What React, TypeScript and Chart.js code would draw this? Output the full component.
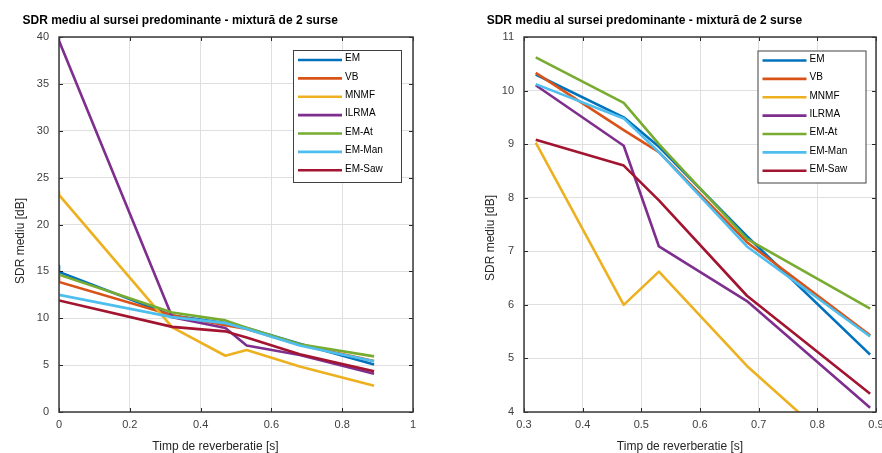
import React, { useEffect, useRef } from "react";
import { Chart, registerables } from "chart.js";

Chart.register(...registerables);

// ---------------- data ----------------
const reverbTimes = [0, 0.32, 0.47, 0.53, 0.68, 0.89];
const methods = ["EM", "VB", "MNMF", "ILRMA", "EM-At", "EM-Man", "EM-Saw"];
const methodColors = ["#0072BD", "#D95319", "#EDB120", "#7E2F8E", "#77AC30", "#4DBEEE", "#A2142F"];

const sdrEM = [14.94, 10.3, 9.5, 8.95, 7.28, 5.07];
const sdrVB = [13.87, 10.33, 9.26, 8.85, 7.17, 5.43];
const sdrMNMF = [23.15, 9.03, 6.0, 6.62, 4.86, 2.8];
const sdrILRMA = [39.6, 10.1, 8.97, 7.09, 6.07, 4.08];
const sdrEMAt = [14.65, 10.62, 9.77, 9.0, 7.23, 5.93];
const sdrEMMan = [12.5, 10.12, 9.48, 8.85, 7.09, 5.41];
const sdrEMSaw = [11.9, 9.08, 8.6, 7.95, 6.17, 4.34];
// first sample at reverb time 0 (a second value is recorded at the same x)
const sdrAtZeroFirst = [15.6, 14.4, 23.5, 40.0, 14.65, 12.5, 11.9];

const allSeries = [sdrEM, sdrVB, sdrMNMF, sdrILRMA, sdrEMAt, sdrEMMan, sdrEMSaw];

const titleText = "SDR mediu al sursei predominante - mixtură de 2 surse";
const xLabelText = "Timp de reverberatie [s]";
const yLabelText = "SDR mediu [dB]";

const FONT = '"Liberation Sans", Arial, Helvetica, sans-serif';
const AXIS_COLOR = "#262626";

const decorPlugin = {
  id: "decor",
  afterDraw(chart: any, _args: any, opts: any) {
    const { ctx, chartArea: a } = chart;
    const xs = chart.scales.x;
    const ys = chart.scales.y;
    ctx.save();
    // inward ticks on all four sides
    ctx.strokeStyle = AXIS_COLOR;
    ctx.lineWidth = 1;
    ctx.beginPath();
    xs.ticks.forEach((t: any) => {
      const px = Math.round(xs.getPixelForValue(t.value)) + 0.5;
      ctx.moveTo(px, a.bottom);
      ctx.lineTo(px, a.bottom - 4);
      ctx.moveTo(px, a.top);
      ctx.lineTo(px, a.top + 4);
    });
    ys.ticks.forEach((t: any) => {
      const py = Math.round(ys.getPixelForValue(t.value)) + 0.5;
      ctx.moveTo(a.left, py);
      ctx.lineTo(a.left + 4, py);
      ctx.moveTo(a.right, py);
      ctx.lineTo(a.right - 4, py);
    });
    ctx.stroke();
    // axes box
    ctx.strokeStyle = "#3a3a3a";
    ctx.lineWidth = 1.5;
    ctx.strokeRect(a.left, a.top, a.right - a.left, a.bottom - a.top);

    // legend
    const L = opts.legend;
    ctx.fillStyle = "#ffffff";
    ctx.fillRect(L.x, L.y, L.w, L.h);
    ctx.strokeStyle = "#404040";
    ctx.lineWidth = 1;
    ctx.strokeRect(L.x + 0.5, L.y + 0.5, L.w, L.h);
    ctx.font = `10px ${FONT}`;
    ctx.textAlign = "left";
    ctx.textBaseline = "middle";
    chart.data.datasets.forEach((ds: any, i: number) => {
      const y = L.y + 10 + i * 18.38;
      ctx.strokeStyle = ds.borderColor;
      ctx.lineWidth = 2.6;
      ctx.beginPath();
      ctx.moveTo(L.x + 5, y);
      ctx.lineTo(L.x + 49, y);
      ctx.stroke();
      ctx.fillStyle = "#000";
      ctx.fillText(ds.label, L.x + 52, y - 1.5);
    });

    // title
    ctx.fillStyle = "#000";
    ctx.font = `bold 12px ${FONT}`;
    ctx.textAlign = "left";
    ctx.textBaseline = "middle";
    ctx.fillText(opts.title.text, opts.title.x, opts.title.y);
    // x label
    ctx.fillStyle = "#262626";
    ctx.font = `12px ${FONT}`;
    ctx.textAlign = "center";
    ctx.fillText(opts.xLabel.text, opts.xLabel.x, opts.xLabel.y);
    // y label
    ctx.save();
    ctx.translate(opts.yLabel.x, opts.yLabel.y);
    ctx.rotate(-Math.PI / 2);
    ctx.fillText(opts.yLabel.text, 0, 0);
    ctx.restore();
    ctx.restore();
  },
};

const fmt = (v: any) => String(+Number(v).toFixed(2));

function buildConfig(isLeft: boolean): any {
  const datasets = methods.map((name, i) => {
    const vals = allSeries[i];
    const pts: any[] = [];
    if (isLeft) {
      pts.push({ x: reverbTimes[0], y: sdrAtZeroFirst[i] });
      reverbTimes.forEach((t, k) => pts.push({ x: t, y: vals[k] }));
    } else {
      reverbTimes.forEach((t, k) => {
        if (k > 0) pts.push({ x: t, y: vals[k] });
      });
    }
    return {
      label: name,
      data: pts,
      borderColor: methodColors[i],
      backgroundColor: methodColors[i],
      borderWidth: 2.6,
      pointRadius: 0,
      tension: 0,
      fill: false,
      order: methods.length - i,
      borderJoinStyle: "round",
    };
  });

  const yAxisW = isLeft ? 59 : 83;
  const padRight = isLeft ? 28 : 6;
  const tickFont = { family: FONT, size: 11 };

  return {
    type: "line",
    data: { datasets },
    options: {
      animation: false,
      responsive: false,
      devicePixelRatio: 1,
      layout: { padding: { top: 37, right: padRight, left: 0, bottom: 0 } },
      plugins: {
        legend: { display: false },
        title: { display: false },
        tooltip: { enabled: false },
        decor: isLeft
          ? {
              legend: { x: 293, y: 50, w: 108, h: 132 },
              title: { text: titleText, x: 22.5, y: 20.5 },
              xLabel: { text: xLabelText, x: 215.5, y: 447 },
              yLabel: { text: yLabelText, x: 21, y: 241 },
            }
          : {
              legend: { x: 316.5, y: 50.5, w: 108, h: 132 },
              title: { text: titleText, x: 45.7, y: 20.5 },
              xLabel: { text: xLabelText, x: 239, y: 447 },
              yLabel: { text: yLabelText, x: 49.7, y: 238 },
            },
      },
      scales: {
        x: {
          type: "linear",
          min: isLeft ? 0 : 0.3,
          max: isLeft ? 1 : 0.9,
          ticks: {
            stepSize: isLeft ? 0.2 : 0.1,
            callback: fmt,
            font: tickFont,
            color: "#404040",
            padding: 6,
            maxRotation: 0,
            autoSkip: false,
          },
          grid: { color: "#dfdfdf", drawTicks: false, lineWidth: 1 },
          border: { display: false },
          afterFit: (s: any) => {
            s.height = 41;
            s.paddingLeft = 0;
            s.paddingRight = 0;
          },
        },
        y: {
          type: "linear",
          min: isLeft ? 0 : 4,
          max: isLeft ? 40 : 11,
          ticks: {
            stepSize: isLeft ? 5 : 1,
            callback: fmt,
            font: tickFont,
            color: "#404040",
            padding: 10,
            autoSkip: false,
          },
          grid: { color: "#dfdfdf", drawTicks: false, lineWidth: 1 },
          border: { display: false },
          afterFit: (s: any) => {
            s.width = yAxisW;
            s.paddingTop = 0;
            s.paddingBottom = 0;
          },
        },
      },
    },
    plugins: [decorPlugin],
  };
}

function Panel({ isLeft }: { isLeft: boolean }) {
  const ref = useRef<HTMLCanvasElement | null>(null);
  useEffect(() => {
    if (!ref.current) return;
    const chart = new Chart(ref.current, buildConfig(isLeft));
    return () => chart.destroy();
  }, [isLeft]);
  return (
    <canvas
      ref={ref}
      width={441}
      height={453}
      style={{ position: "absolute", left: isLeft ? 0 : 441, top: 0, width: 441, height: 453 }}
    />
  );
}

export default function App() {
  return (
    <div style={{ position: "fixed", left: 0, top: 0, width: 882, height: 453, background: "#fff", overflow: "hidden" }}>
      <Panel isLeft={true} />
      <Panel isLeft={false} />
    </div>
  );
}
